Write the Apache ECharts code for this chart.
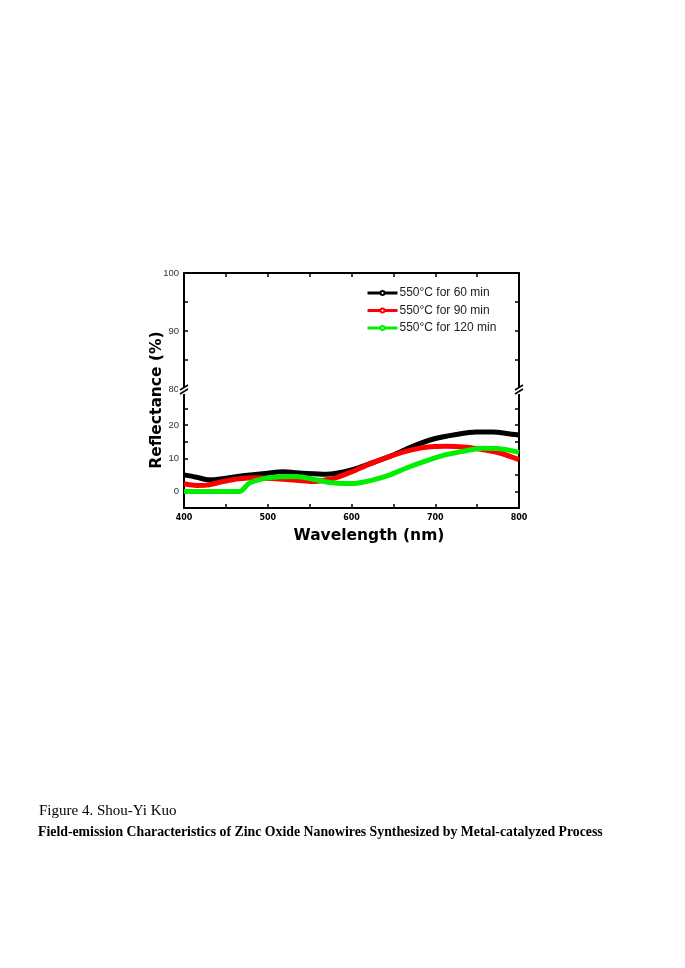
<!DOCTYPE html>
<html><head><meta charset="utf-8">
<script src="https://cdn.jsdelivr.net/npm/echarts@6/dist/echarts.min.js"></script>
<style>html,body{margin:0;padding:0;background:#fff}#c{width:685px;height:968px}</style>
</head><body><div id="c"></div>
<script>
const seriesNames = ['550°C for 60 min', '550°C for 90 min', '550°C for 120 min'];
const xTopRange = [400, 800];
const yTopRange = [80, 100];
const yBottomRange = [-5, 30];
const black60 = [[400,5.0],[415,4.3],[430,3.5],[450,4.0],[470,4.7],[500,5.5],[518,5.9],[542,5.5],[570,5.2],[582,5.5],[600,6.5],[622,8.4],[650,11.0],[673,13.6],[699,15.9],[725,17.2],[749,17.9],[769,17.9],[785,17.5],[800,17.0]];
const red90 = [[400,2.3],[415,1.8],[427,1.9],[447,3.0],[466,3.8],[486,4.1],[500,4.0],[518,3.7],[534,3.4],[554,3.0],[570,3.5],[582,4.2],[600,5.9],[622,8.3],[646,10.6],[665,12.1],[689,13.3],[713,13.6],[737,13.3],[757,12.6],[777,11.6],[800,9.6]];
const green120 = [[400,0],[420,0],[445,0],[466,0],[478,2.5],[494,3.8],[514,4.4],[534,4.5],[554,3.7],[574,2.7],[594,2.4],[606,2.5],[626,3.5],[646,5.0],[665,7.0],[689,9.2],[713,11.1],[737,12.3],[757,13.0],[777,12.9],[789,12.4],[800,11.8]];
const colors = ['#000000', '#ff0000', '#00ee00'];

const chart = echarts.init(document.getElementById('c'), null, {renderer: 'canvas'});
const axisLine = {show: true, onZero: false, lineStyle: {color: '#000', width: 2}};
const tick = {show: true, inside: true, length: 4, lineStyle: {color: '#000', width: 1.5}};
function yLab(show) {
  return {show: show, fontSize: 9.5, color: '#333', fontFamily: 'Liberation Sans', margin: 5,
    formatter: v => (v % 10 === 0 && v >= 0 && v !== 30) ? String(v) : ''};
}
const option = {
  animation: false,
  backgroundColor: '#fff',
  grid: [
    {left: 184, width: 335, top: 273, height: 116},
    {left: 184, width: 335, top: 392, height: 116}
  ],
  xAxis: [
    {gridIndex: 0, type: 'value', position: 'top', min: xTopRange[0], max: xTopRange[1], interval: 50,
      axisLine: axisLine, axisTick: tick, axisLabel: {show: false}, splitLine: {show: false}},
    {gridIndex: 1, type: 'value', position: 'bottom', min: xTopRange[0], max: xTopRange[1], interval: 50,
      axisLine: axisLine, axisTick: tick, splitLine: {show: false},
      axisLabel: {fontSize: 8, fontWeight: 'bold', color: '#000', fontFamily: 'DejaVu Sans', margin: 6,
        formatter: v => v % 100 === 0 ? String(v) : ''}}
  ],
  yAxis: [
    {gridIndex: 0, type: 'value', position: 'left', min: yTopRange[0], max: yTopRange[1], interval: 5,
      axisLine: axisLine, axisTick: tick, axisLabel: yLab(true), splitLine: {show: false}},
    {gridIndex: 0, type: 'value', position: 'right', min: yTopRange[0], max: yTopRange[1], interval: 5,
      axisLine: axisLine, axisTick: tick, axisLabel: {show: false}, splitLine: {show: false}},
    {gridIndex: 1, type: 'value', position: 'left', min: yBottomRange[0], max: yBottomRange[1], interval: 5,
      axisLine: axisLine, axisTick: tick, axisLabel: yLab(true), splitLine: {show: false}},
    {gridIndex: 1, type: 'value', position: 'right', min: yBottomRange[0], max: yBottomRange[1], interval: 5,
      axisLine: axisLine, axisTick: tick, axisLabel: {show: false}, splitLine: {show: false}}
  ],
  legend: {
    orient: 'vertical', left: 366, top: 287, padding: 0, itemGap: 5.5, itemWidth: 30, itemHeight: 5,
    data: seriesNames,
    textStyle: {fontSize: 12, color: '#222', fontFamily: 'Liberation Sans', padding: [0, 0, 0, -3]},
    lineStyle: {width: 3}
  },
  series: [black60, red90, green120].map((d, i) => ({
    name: seriesNames[i], type: 'line', xAxisIndex: 1, yAxisIndex: 2, data: d,
    smooth: 0.3, symbol: 'emptyCircle', symbolSize: 4, showSymbol: false,
    itemStyle: {color: colors[i]}, lineStyle: {color: colors[i], width: 5}
  })),
  graphic: [
    {type: 'rect', shape: {x: 178, y: 387, width: 12, height: 7}, style: {fill: '#fff'}, z: 100},
    {type: 'rect', shape: {x: 513, y: 387, width: 12, height: 7}, style: {fill: '#fff'}, z: 100},
    {type: 'line', shape: {x1: 180, y1: 390, x2: 188, y2: 385}, style: {stroke: '#000', lineWidth: 1.5}, z: 101},
    {type: 'line', shape: {x1: 180, y1: 394, x2: 188, y2: 389}, style: {stroke: '#000', lineWidth: 1.5}, z: 101},
    {type: 'line', shape: {x1: 515, y1: 390, x2: 523, y2: 385}, style: {stroke: '#000', lineWidth: 1.5}, z: 101},
    {type: 'line', shape: {x1: 515, y1: 394, x2: 523, y2: 389}, style: {stroke: '#000', lineWidth: 1.5}, z: 101},
    {type: 'text', x: 157, y: 400, rotation: Math.PI / 2,
      style: {text: 'Reflectance (%)', fontSize: 15.5, fontWeight: 'bold', fill: '#000', fontFamily: 'DejaVu Sans',
        align: 'center', verticalAlign: 'middle'}},
    {type: 'text', x: 369, y: 536,
      style: {text: 'Wavelength (nm)', fontSize: 15.5, fontWeight: 'bold', fill: '#000', fontFamily: 'DejaVu Sans',
        align: 'center', verticalAlign: 'middle'}},
    {type: 'text', x: 39, y: 811,
      style: {text: 'Figure 4. Shou-Yi Kuo', fontSize: 15, fill: '#000', fontFamily: 'Liberation Serif', verticalAlign: 'middle'}},
    {type: 'text', x: 38, y: 832,
      style: {text: 'Field-emission Characteristics of Zinc Oxide Nanowires Synthesized by Metal-catalyzed Process',
        fontSize: 13.8, fontWeight: 'bold', fill: '#000', fontFamily: 'Liberation Serif', verticalAlign: 'middle'}}
  ]
};
chart.setOption(option);
</script></body></html>
